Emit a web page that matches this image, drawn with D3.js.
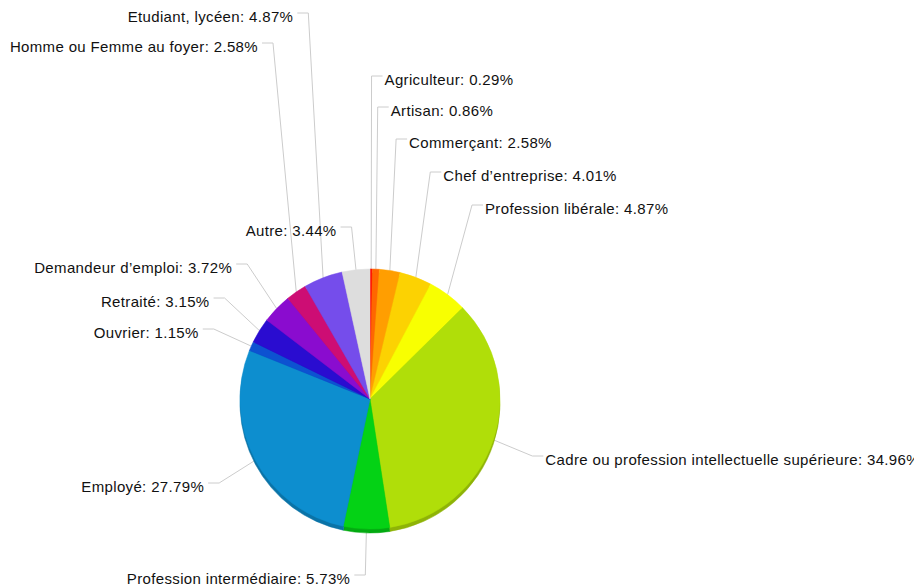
<!DOCTYPE html>
<html>
<head>
<meta charset="utf-8">
<script src="https://cdn.jsdelivr.net/npm/d3@7"></script>
<style>
  body { margin: 0; background: #fff; }
  svg { display: block; }
</style>
</head>
<body>
<script>
// categories and shares (%), in drawing order (clockwise from 12 o'clock)
var categories = [
	"Agriculteur", "Artisan", "Commerçant", "Chef d’entreprise", "Profession libérale",
	"Cadre ou profession intellectuelle supérieure", "Profession intermédiaire", "Employé",
	"Ouvrier", "Retraité", "Demandeur d’emploi", "Homme ou Femme au foyer",
	"Etudiant, lycéen", "Autre"
];
var shares = [0.29, 0.86, 2.58, 4.01, 4.87, 34.96, 5.73, 27.79, 1.15, 3.15, 3.72, 2.58, 4.87, 3.44];

// amCharts-like palette
var colors = ["#FF0F00", "#FF6600", "#FF9E01", "#FCD202", "#F8FF01", "#B0DE09", "#04D215",
	"#0D8ECF", "#0D52D1", "#2A0CD0", "#8A0CCF", "#CD0D74", "#754DEB", "#DDDDDD"];

// vertical position of each label line (label layout after overlap avoidance)
var labelLineY = [76, 107, 139, 172, 205, 456, 575, 483, 329, 298, 264, 43, 13, 227];

var width = 914;
var height = 587;
var cx = 370, cy = 399;
var radius = 130;
var depth = 4;

var svg = d3.select("body")
	.append("svg")
	.attr("width", width)
	.attr("height", height);

var pie = d3.pie()
	.sort(null)
	.value(function(d){ return d; });

var arcs = pie(shares);

var arc = d3.arc()
	.innerRadius(0)
	.outerRadius(radius);

// leader lines first so the pie sits on top of them
var lines = svg.append("g");
arcs.forEach(function(a, i){
	var mid = (a.startAngle + a.endAngle) / 2;
	var sx = cx + radius * Math.sin(mid);
	var sy = cy - radius * Math.cos(mid);
	var right = Math.sin(mid) >= 0;
	var ex = cx + (radius + 41) * Math.sin(mid);
	var ey = labelLineY[i];
	var hx = right ? ex + 11 : ex - 11;

	lines.append("polyline")
		.attr("points", [[sx, sy], [ex, ey], [hx, ey]].map(function(p){ return p.join(","); }).join(" "))
		.attr("fill", "none")
		.attr("stroke", "#cccccc")
		.attr("stroke-width", 1);

	lines.append("text")
		.attr("x", right ? hx + 2 : hx - 4)
		.attr("y", ey + 9)
		.attr("text-anchor", right ? "start" : "end")
		.attr("font-family", "Liberation Sans, Arial, Helvetica, sans-serif")
		.attr("font-size", "15px")
		.attr("letter-spacing", "0.35px")
		.attr("fill", "#111")
		.text(categories[i] + ": " + shares[i].toFixed(2) + "%");
});

// darker side wall, shifted down a few pixels
svg.append("g")
	.attr("transform", "translate(" + cx + "," + (cy + depth) + ")")
	.selectAll("path")
	.data(arcs)
	.enter()
		.append("path")
		.attr("d", arc)
		.attr("fill", function(d, i){ return d3.color(colors[i]).darker(0.6); })
		.attr("stroke", function(d, i){ return d3.color(colors[i]).darker(0.6); })
		.attr("stroke-width", 0.5);

// top face
svg.append("g")
	.attr("transform", "translate(" + cx + "," + cy + ")")
	.selectAll("path")
	.data(arcs)
	.enter()
		.append("path")
		.attr("d", arc)
		.attr("fill", function(d, i){ return colors[i]; })
		.attr("stroke", function(d, i){ return colors[i]; })
		.attr("stroke-width", 0.5);
</script>
</body>
</html>
